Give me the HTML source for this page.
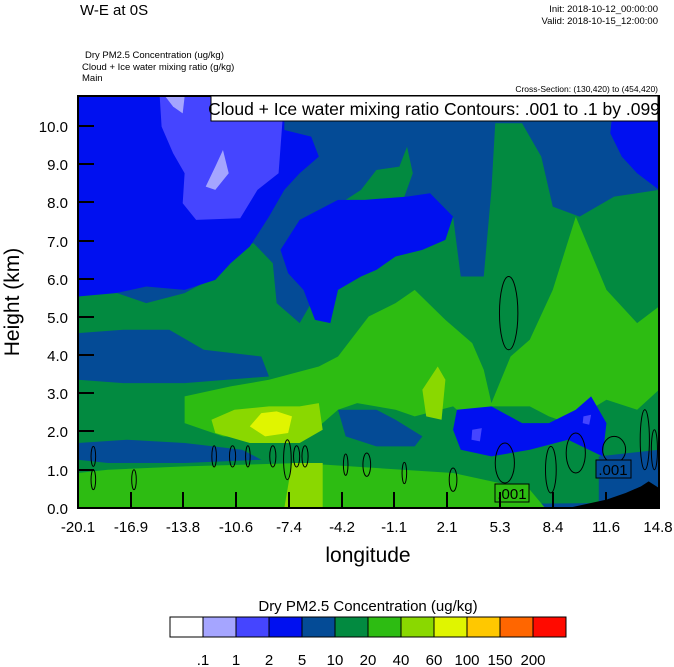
<!DOCTYPE html>
<html><head><style>
body{margin:0;background:#fff;width:674px;height:667px;overflow:hidden;font-family:"Liberation Sans",sans-serif}
svg{position:absolute;left:0;top:0}
</style></head><body>
<svg width="674" height="667" viewBox="0 0 674 667" font-family="Liberation Sans, sans-serif">
<text x="80" y="15" font-size="15">W-E at 0S</text>
<text x="658" y="12" font-size="9.5" text-anchor="end">Init: 2018-10-12_00:00:00</text>
<text x="658" y="24" font-size="9.5" text-anchor="end">Valid: 2018-10-15_12:00:00</text>
<text x="85" y="58" font-size="9.5">Dry PM2.5 Concentration   (ug/kg)</text>
<text x="82" y="70" font-size="9.5">Cloud + Ice water mixing ratio   (g/kg)</text>
<text x="82" y="81" font-size="9.5">Main</text>
<text x="658" y="92" font-size="8.5" text-anchor="end">Cross-Section: (130,420) to (454,420)</text>

<svg x="78" y="96" width="581" height="412" viewBox="22 18 1515 1237" preserveAspectRatio="none">
<rect x="22" y="18" width="1515" height="1237" fill="#044B96"/>
<polygon fill="#028A40" points="22,620 100,600 200,640 300,610 380,560 440,470 480,460 530,520 540,640 600,700 650,600 700,480 720,330 760,300 800,240 860,230 880,170 895,250 870,330 1000,380 1020,560 1080,560 1100,300 1110,100 1180,100 1230,200 1260,350 1330,380 1420,320 1537,300 1537,1180 1400,1240 22,1255"/>
<polygon fill="#0010F0" points="22,18 560,18 560,120 630,140 650,200 600,250 560,300 520,380 470,470 420,520 380,570 300,600 200,590 120,610 22,620"/>
<polygon fill="#4545FF" points="235,18 560,18 545,250 490,300 445,385 330,390 295,340 300,250 270,190 240,110"/>
<polygon fill="#A5A5FF" points="355,290 380,230 400,180 415,250 380,300"/>
<polygon fill="#A5A5FF" points="250,20 300,20 295,70 270,50"/>
<polygon fill="#0010F0" points="600,390 700,330 770,330 880,320 940,310 1000,380 980,450 920,480 850,500 800,540 760,560 700,600 680,700 640,690 610,600 570,550 550,480"/>
<polygon fill="#0010F0" points="1420,18 1537,18 1537,300 1480,250 1440,200 1410,130"/>
<polygon fill="#044B96" points="22,730 140,720 260,720 350,780 500,800 520,860 300,880 140,880 22,870"/>
<polygon fill="#044B96" points="22,1060 150,1050 300,1060 450,1080 500,1110 300,1120 100,1120 22,1110"/>
<polygon fill="#2DBC12" points="300,920 420,890 520,870 650,830 700,800 780,680 850,640 900,600 980,690 1050,760 1080,840 1100,940 1150,800 1200,750 1260,600 1320,380 1400,600 1480,700 1537,650 1537,900 1480,960 1400,930 1300,1000 1250,980 1200,950 1100,950 1050,1000 1000,950 900,980 850,960 750,940 700,960 660,1000 600,1050 400,1040 300,1000"/>
<polygon fill="#2DBC12" points="22,1150 100,1140 300,1130 600,1120 1000,1150 1200,1200 1240,1255 22,1255"/>
<polygon fill="#0010F0" points="1010,960 1100,950 1180,1000 1250,1000 1320,960 1360,920 1400,1000 1390,1100 1300,1050 1200,1080 1100,1100 1020,1080 1000,1020"/>
<polygon fill="#044B96" points="1380,1100 1537,1080 1537,1255 1380,1255"/>
<polygon fill="#044B96" points="700,960 800,960 850,990 920,1040 900,1070 800,1070 720,1040"/>
<polygon fill="#4545FF" points="1050,1020 1075,1015 1070,1055 1048,1050"/>
<polygon fill="#4545FF" points="1340,980 1360,975 1355,1005 1338,1000"/>
<polygon fill="#8AD800" points="370,990 430,960 520,950 600,950 650,940 660,1020 600,1060 470,1060 380,1030"/>
<polygon fill="#8AD800" points="920,900 960,830 980,870 970,990 930,980"/>
<polygon fill="#8AD800" points="580,1120 660,1120 660,1255 560,1255"/>
<polygon fill="#E0F500" points="470,1010 500,970 540,965 580,980 570,1030 510,1040"/>
<polygon fill="#000" points="1300,1255 1400,1230 1450,1210 1490,1190 1510,1175 1537,1195 1537,1255"/>
<g fill="none" stroke="#000" stroke-width="1">
<ellipse cx="1145" cy="670" rx="24" ry="110" vector-effect="non-scaling-stroke"/>
<ellipse cx="62" cy="1100" rx="6" ry="30" vector-effect="non-scaling-stroke"/>
<ellipse cx="62" cy="1170" rx="6" ry="30" vector-effect="non-scaling-stroke"/>
<ellipse cx="168" cy="1170" rx="6" ry="30" vector-effect="non-scaling-stroke"/>
<ellipse cx="377" cy="1100" rx="6" ry="32" vector-effect="non-scaling-stroke"/>
<ellipse cx="425" cy="1100" rx="8" ry="32" vector-effect="non-scaling-stroke"/>
<ellipse cx="465" cy="1100" rx="6" ry="32" vector-effect="non-scaling-stroke"/>
<ellipse cx="530" cy="1100" rx="8" ry="32" vector-effect="non-scaling-stroke"/>
<ellipse cx="568" cy="1110" rx="10" ry="60" vector-effect="non-scaling-stroke"/>
<ellipse cx="592" cy="1100" rx="8" ry="32" vector-effect="non-scaling-stroke"/>
<ellipse cx="614" cy="1100" rx="8" ry="32" vector-effect="non-scaling-stroke"/>
<ellipse cx="720" cy="1125" rx="6" ry="32" vector-effect="non-scaling-stroke"/>
<ellipse cx="775" cy="1125" rx="10" ry="35" vector-effect="non-scaling-stroke"/>
<ellipse cx="873" cy="1150" rx="6" ry="32" vector-effect="non-scaling-stroke"/>
<ellipse cx="1000" cy="1170" rx="10" ry="35" vector-effect="non-scaling-stroke"/>
<ellipse cx="1135" cy="1120" rx="25" ry="60" vector-effect="non-scaling-stroke"/>
<ellipse cx="1255" cy="1140" rx="14" ry="70" vector-effect="non-scaling-stroke"/>
<ellipse cx="1320" cy="1090" rx="25" ry="60" vector-effect="non-scaling-stroke"/>
<ellipse cx="1420" cy="1080" rx="30" ry="40" vector-effect="non-scaling-stroke"/>
<ellipse cx="1500" cy="1050" rx="12" ry="90" vector-effect="non-scaling-stroke"/>
<ellipse cx="1525" cy="1080" rx="8" ry="60" vector-effect="non-scaling-stroke"/>
</g>
</svg>
<rect x="495" y="484" width="34" height="18" fill="#2DBC12" stroke="#000" stroke-width="1"/>
<text x="512" y="499" font-size="15" text-anchor="middle">.001</text>
<rect x="596" y="460" width="35" height="18" fill="#044B96" stroke="#000" stroke-width="1"/>
<text x="613" y="475" font-size="15" text-anchor="middle">.001</text>
<rect x="78" y="96" width="581" height="412" fill="none" stroke="#000" stroke-width="2"/>
<rect x="211" y="96" width="447" height="25" fill="#fff" stroke="#000" stroke-width="1"/>
<text x="434" y="115" font-size="17.5" text-anchor="middle">Cloud + Ice water mixing ratio Contours: .001 to .1 by .099</text>
<g stroke="#000" stroke-width="2">
<line x1="78" y1="126" x2="94" y2="126"/><line x1="78" y1="164" x2="94" y2="164"/><line x1="78" y1="202" x2="94" y2="202"/><line x1="78" y1="241" x2="94" y2="241"/><line x1="78" y1="279" x2="94" y2="279"/><line x1="78" y1="317" x2="94" y2="317"/><line x1="78" y1="355" x2="94" y2="355"/><line x1="78" y1="393" x2="94" y2="393"/><line x1="78" y1="431" x2="94" y2="431"/><line x1="78" y1="470" x2="94" y2="470"/>
<line x1="131" y1="508" x2="131" y2="492"/><line x1="183" y1="508" x2="183" y2="492"/><line x1="236" y1="508" x2="236" y2="492"/><line x1="289" y1="508" x2="289" y2="492"/><line x1="342" y1="508" x2="342" y2="492"/><line x1="394" y1="508" x2="394" y2="492"/><line x1="447" y1="508" x2="447" y2="492"/><line x1="500" y1="508" x2="500" y2="492"/><line x1="553" y1="508" x2="553" y2="492"/><line x1="606" y1="508" x2="606" y2="492"/>
</g>
<g font-size="15" text-anchor="end">
<text x="68" y="132">10.0</text><text x="68" y="170">9.0</text><text x="68" y="208">8.0</text><text x="68" y="247">7.0</text><text x="68" y="285">6.0</text><text x="68" y="323">5.0</text><text x="68" y="361">4.0</text><text x="68" y="399">3.0</text><text x="68" y="437">2.0</text><text x="68" y="476">1.0</text><text x="68" y="514">0.0</text>
</g>
<g font-size="15" text-anchor="middle">
<text x="78" y="532">-20.1</text><text x="131" y="532">-16.9</text><text x="183" y="532">-13.8</text><text x="236" y="532">-10.6</text><text x="289" y="532">-7.4</text><text x="342" y="532">-4.2</text><text x="394" y="532">-1.1</text><text x="447" y="532">2.1</text><text x="500" y="532">5.3</text><text x="553" y="532">8.4</text><text x="606" y="532">11.6</text><text x="658" y="532">14.8</text>
</g>
<text x="368" y="562" font-size="21" text-anchor="middle">longitude</text>
<text transform="translate(19,302) rotate(-90)" font-size="21" text-anchor="middle">Height (km)</text>
<text x="368" y="611" font-size="15" text-anchor="middle">Dry PM2.5 Concentration  (ug/kg)</text>
<g stroke="#000" stroke-width="1">
<rect x="170" y="617" width="33" height="20" fill="#fff"/>
<rect x="203" y="617" width="33" height="20" fill="#A5A5FF"/>
<rect x="236" y="617" width="33" height="20" fill="#4545FF"/>
<rect x="269" y="617" width="33" height="20" fill="#0010F0"/>
<rect x="302" y="617" width="33" height="20" fill="#044B96"/>
<rect x="335" y="617" width="33" height="20" fill="#028A40"/>
<rect x="368" y="617" width="33" height="20" fill="#2DBC12"/>
<rect x="401" y="617" width="33" height="20" fill="#8AD800"/>
<rect x="434" y="617" width="33" height="20" fill="#E0F500"/>
<rect x="467" y="617" width="33" height="20" fill="#FFC800"/>
<rect x="500" y="617" width="33" height="20" fill="#FF6600"/>
<rect x="533" y="617" width="33" height="20" fill="#FF0A00"/>
</g>
<g font-size="15" text-anchor="middle">
<text x="203" y="665">.1</text><text x="236" y="665">1</text><text x="269" y="665">2</text><text x="302" y="665">5</text><text x="335" y="665">10</text><text x="368" y="665">20</text><text x="401" y="665">40</text><text x="434" y="665">60</text><text x="467" y="665">100</text><text x="500" y="665">150</text><text x="533" y="665">200</text>
</g>
</svg>
</body></html>
